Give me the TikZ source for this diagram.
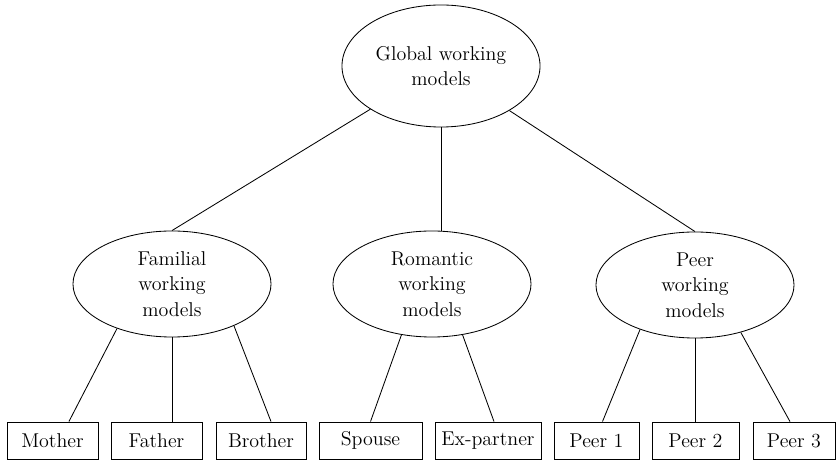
\documentclass[tikz,border=0pt]{standalone}
\usetikzlibrary{shapes.geometric}

\begin{document}
\begin{tikzpicture}[x=0.025cm,y=0.025cm,line width=0.6pt,
  every node/.style={font=\fontsize{14.2}{18}\selectfont,align=center},
  model/.style={draw,ellipse,inner sep=0pt,minimum width=4.95cm,minimum height=2.65cm},
  person/.style={draw,rectangle,inner sep=0pt,minimum height=0.925cm}]
\useasboundingbox (0,0) rectangle (837,460);
\node[model,minimum height=3.05cm] (global) at (441,394) {Global working\\models};
\node[model] (fam) at (172,176) {Familial\\working\\models};
\node[model] (rom) at (432,176) {Romantic\\working\\models};
\node[model] (peer) at (695,175) {Peer\\working\\models};
\node[person,minimum width=2.275cm] (mother) at (52.5,19.5) {Mother};
\node[person,minimum width=2.275cm] (father) at (156.5,19.5) {Father};
\node[person,minimum width=2.25cm] (brother) at (261,19.5) {Brother};
\node[person,minimum width=2.575cm] (spouse) at (370.5,19.5) {Spouse};
\node[person,minimum width=2.65cm] (expartner) at (488,19.5) {Ex-partner};
\node[person,minimum width=2.125cm] (peer1) at (596.5,19.5) {Peer 1};
\node[person,minimum width=2.175cm] (peer2) at (695.5,19.5) {Peer 2};
\node[person,minimum width=2.05cm] (peer3) at (794,19.5) {Peer 3};
\draw (global) -- (fam.north);
\draw (global.south) -- (global.south |- rom.north);
\draw (global) -- (peer.north);
\draw (fam.219) -- ([xshift=0.41cm]mother.north);
\draw (fam.south) -- (fam.south |- father.north);
\draw (fam.326) -- ([xshift=0.25cm]brother.north);
\draw (rom.239) -- (spouse.north);
\draw (rom.301) -- ([xshift=0.15cm]expartner.north);
\draw (peer.219) -- ([xshift=0.15cm]peer1.north);
\draw (peer.south) -- (peer.south |- peer2.north);
\draw (peer.314) -- ([xshift=-0.1cm]peer3.north);
\end{tikzpicture}
\end{document}
